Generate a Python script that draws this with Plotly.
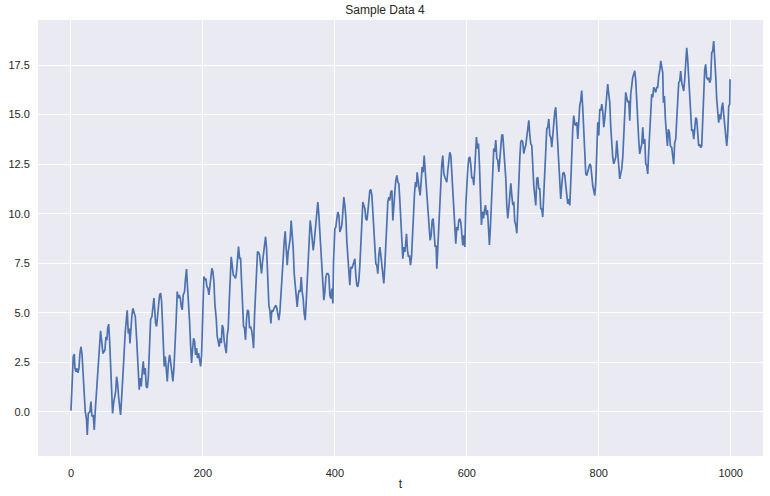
import plotly.graph_objects as go

t = [
0,3.5,5.0,6.1,7.6,9.1,10.6,12.1,13.6,15.1,16.7,18.7,20.2,21.7,23.7,24.7,26.3,28.8,30.3,31.8,33.8,35.3,36.9,39.4,41.4,42.9,44.9,46.9,48.5,50.0,51.5,53.0,54.5,55.6,57.1,58.6,60.1,61.6,63.1,64.6,66.2,67.7,69.2,70.7,72.2,73.7,75.2,76.8,78.3,80.3,82.3,83.8,85.3,86.9,88.4,89.4,90.9,92.4,93.9,95.5,
97.5,99.5,101.0,102.5,103.5,105.0,106.6,108.1,109.6,111.1,112.6,114.1,115.7,117.2,118.7,120.7,122.7,124.2,125.8,126.8,128.3,129.8,131.3,132.8,134.3,135.9,137.4,138.9,140.4,141.4,142.9,144.4,146.0,147.5,149.5,151.0,152.5,154.5,156.1,158.1,159.6,161.1,162.6,164.1,165.7,167.2,168.7,170.2,172.2,173.7,175.2,176.8,178.3,179.8,181.3,182.8,184.3,185.9,187.4,188.9,190.4,191.9,193.4,195.0,196.5,198.0,
200.0,201.5,203.0,204.5,206.1,207.6,209.1,210.6,212.1,213.6,215.1,216.7,218.2,220.2,221.7,223.2,224.7,226.3,227.8,229.3,230.8,232.3,233.8,235.4,236.9,238.4,239.9,241.4,242.9,244.4,246.0,248.0,249.5,251.0,252.5,254.0,255.6,257.1,258.6,260.1,261.6,263.1,264.6,266.2,267.7,269.2,270.7,272.2,273.7,275.2,276.8,278.3,279.8,281.3,282.8,284.3,285.9,287.4,288.9,290.4,291.9,293.4,295.0,296.5,
297.0,298.5,300.0,301.5,303.0,304.5,306.1,307.6,309.1,310.6,312.1,313.6,315.1,316.7,318.2,320.2,321.7,323.2,324.7,326.3,327.8,329.3,330.8,332.3,333.8,335.4,336.9,338.4,339.9,341.4,342.9,344.4,346.0,347.5,349.0,350.5,352.0,353.5,355.1,356.6,358.1,359.6,361.1,362.6,364.2,365.7,367.2,368.7,370.2,371.7,373.2,374.2,375.8,377.3,378.8,380.3,381.8,383.3,384.8,386.4,387.9,389.4,390.9,392.4,393.9,395.5,397.0,
398.0,400.0,401.5,403.0,404.5,406.1,407.6,409.1,410.6,412.1,413.6,415.1,416.7,418.2,419.7,421.2,422.7,424.2,425.8,427.3,428.8,430.3,431.8,433.3,434.8,436.4,437.9,439.4,440.9,442.4,443.9,445.5,447.0,448.5,450.0,451.5,453.0,454.5,456.1,457.6,459.1,460.6,462.1,463.6,465.1,466.7,468.2,469.7,471.2,472.7,474.2,475.8,477.3,478.8,480.3,481.8,483.3,484.8,486.4,487.9,489.4,490.9,492.4,494.0,495.5,
497.0,498.5,500.0,501.5,503.0,504.6,506.1,507.6,508.6,510.1,511.6,513.1,514.6,516.2,517.7,519.2,520.7,522.2,523.7,524.7,526.3,527.8,529.3,530.8,532.3,533.8,535.4,536.9,538.4,539.9,541.4,542.9,544.4,546.0,547.5,549.0,550.5,552.0,553.5,554.5,556.1,557.6,559.1,560.6,562.1,563.6,565.2,566.7,568.2,569.7,571.2,572.7,574.2,575.8,577.3,578.8,580.3,581.8,583.3,584.8,586.4,587.9,589.4,590.9,592.4,593.9,595.5,597.0,
598.5,600.0,601.5,603.0,604.5,606.1,607.6,609.1,610.6,612.1,613.6,614.6,616.2,617.7,619.2,620.7,622.2,623.7,625.3,626.8,628.3,629.8,631.3,632.8,634.3,635.9,637.9,639.4,640.9,642.4,643.9,645.5,647.0,648.5,650.0,651.5,653.0,654.5,656.1,657.6,659.1,660.6,662.1,663.6,665.2,666.7,668.2,669.7,671.2,672.7,674.2,675.8,677.3,678.8,680.3,681.8,683.3,684.8,686.4,687.9,689.4,690.9,692.4,694.0,695.5,
697.0,698.5,700.0,701.5,703.0,704.5,706.1,707.6,709.1,710.6,712.1,713.6,715.1,716.7,718.2,719.7,721.2,722.7,724.2,725.8,727.3,728.8,730.3,731.8,733.3,734.8,736.4,737.9,739.4,740.9,742.4,743.9,745.5,747.0,748.5,750.0,751.5,753.0,754.5,756.1,757.6,759.1,760.6,762.1,763.6,765.2,766.7,768.2,769.7,771.2,772.7,774.2,775.8,777.3,778.8,780.3,781.8,783.3,784.8,786.4,787.9,789.4,790.9,792.4,793.9,795.5,
797.0,798.5,800.0,801.5,803.0,804.6,806.1,807.6,809.1,810.6,812.1,813.6,815.1,816.7,818.2,819.7,821.2,822.7,824.2,825.8,827.3,828.8,830.3,831.8,833.3,834.8,836.4,837.9,839.4,840.9,842.4,843.9,845.5,847.0,848.5,850.0,851.5,853.0,854.5,856.1,857.6,859.1,860.6,862.1,863.6,865.2,866.7,868.2,869.7,871.2,872.7,874.2,875.8,877.3,878.8,880.3,881.8,883.3,884.8,886.4,887.9,889.4,890.9,892.4,894.0,
897.0,898.0,899.5,901.0,902.5,904.1,905.6,907.1,908.6,910.6,912.1,913.6,915.1,916.7,918.2,919.7,921.2,922.7,924.2,925.8,927.3,928.8,930.3,931.8,933.3,934.8,936.4,937.9,939.4,940.9,942.4,943.9,945.5,947.0,948.5,950.0,951.5,953.0,954.5,956.1,957.6,959.1,960.6,962.1,963.6,965.2,966.7,968.2,969.7,971.2,972.7,974.2,975.8,977.3,978.8,980.3,981.8,983.3,984.8,986.4,987.9,989.4,990.9,992.4,994.0,995.5,997.0,998.5,999.0,
]

values = [
0.07,2.79,2.92,2.20,2.03,2.20,1.98,2.20,2.95,3.29,2.95,1.95,0.77,0.02,-0.40,-1.16,-0.07,0.02,0.52,-0.23,-0.15,-0.91,0.10,1.44,2.53,3.46,4.09,3.46,2.95,3.04,3.12,3.79,3.62,4.21,4.43,3.62,2.45,1.28,-0.07,0.44,0.77,1.02,1.78,1.44,0.77,0.35,-0.15,0.69,1.44,2.79,4.04,4.88,5.13,3.96,4.21,3.46,4.55,4.88,5.22,4.97,
4.81,3.72,2.88,1.71,1.12,1.71,1.29,2.05,2.55,1.88,2.21,1.29,1.21,1.71,3.05,4.65,4.81,5.40,5.74,5.23,4.48,4.31,4.98,5.23,5.90,5.99,5.57,4.39,3.22,2.30,2.80,2.21,1.54,2.38,2.88,2.55,2.05,1.54,2.21,3.39,4.73,6.07,5.74,5.90,5.74,5.32,5.15,5.90,6.07,6.74,7.21,6.24,5.57,4.56,3.39,2.47,3.14,3.72,3.56,2.88,3.22,2.72,2.97,2.47,2.30,2.88,
5.32,6.83,6.66,6.74,6.32,6.24,5.90,6.32,6.91,7.25,7.08,6.58,5.40,4.73,3.81,3.56,3.30,3.72,3.47,4.39,4.23,3.56,3.22,2.97,3.89,4.23,5.57,6.91,7.83,7.41,6.91,6.83,6.74,7.08,7.67,8.34,7.75,7.75,6.58,5.57,4.31,4.23,3.64,4.73,5.15,5.07,4.23,4.31,4.14,3.81,3.22,4.90,6.07,7.08,8.09,8.05,7.92,7.41,6.99,7.58,8.00,8.51,8.84,8.25,
7.82,6.48,5.38,5.13,4.46,5.13,5.05,5.22,5.30,5.38,5.22,4.88,4.63,5.05,5.89,7.31,7.99,8.57,9.11,7.90,7.40,8.07,8.40,8.74,9.66,9.08,8.24,6.98,6.31,5.55,5.30,5.89,6.14,6.06,6.81,6.06,5.72,4.97,4.63,5.55,6.73,7.82,8.99,9.66,9.24,8.74,8.15,8.57,9.08,9.75,10.25,10.59,9.91,9.08,7.99,7.06,6.39,5.64,6.06,6.81,6.98,6.98,6.89,5.89,5.72,6.22,5.47,
7.57,9.24,9.33,9.75,10.08,9.92,9.08,9.24,9.41,10.08,10.84,10.42,9.83,8.57,7.73,7.06,6.39,7.31,7.23,7.40,7.65,7.73,6.89,6.39,6.31,6.64,7.40,8.40,9.41,10.59,10.42,10.25,9.75,9.66,10.08,10.75,11.17,11.22,10.92,10.08,9.08,8.07,7.48,7.40,6.98,7.90,8.32,7.90,7.40,6.98,6.48,7.40,8.57,9.75,10.59,10.84,10.67,11.09,11.17,9.66,10.59,11.09,11.68,11.93,11.59,
11.51,10.67,9.50,8.49,7.73,8.32,8.07,8.57,8.99,8.15,7.82,7.90,7.40,7.82,8.99,10.50,11.00,11.59,11.34,12.09,11.42,11.26,10.92,11.68,12.35,12.09,12.93,12.18,11.51,11.00,10.17,9.24,8.66,8.91,9.66,9.75,9.16,8.32,8.40,7.23,8.32,9.33,10.67,11.76,12.51,12.93,12.01,11.84,11.68,11.59,12.18,12.68,13.10,12.93,12.09,11.17,10.17,9.41,8.49,9.33,9.16,9.66,9.75,9.58,8.66,8.40,8.91,8.32,
10.43,11.69,12.28,12.78,12.87,12.45,11.78,11.86,11.44,12.28,13.29,13.87,13.29,13.54,12.45,11.27,9.43,10.10,9.76,10.18,10.43,9.93,10.18,9.34,8.42,9.43,10.94,12.28,13.29,13.12,13.71,12.78,12.70,12.11,12.78,13.45,13.96,13.96,13.29,12.78,11.78,10.43,9.76,10.27,10.94,11.53,10.94,10.43,10.60,9.60,9.43,9.01,10.27,11.78,12.78,13.62,13.71,13.62,13.03,13.29,13.45,13.87,14.21,14.71,13.96,
13.52,13.44,12.26,11.42,10.92,10.42,11.76,11.84,11.26,11.26,10.25,10.25,9.83,11.26,12.01,13.52,14.28,14.36,14.78,13.94,13.86,13.35,14.11,14.86,15.12,15.37,14.36,13.60,12.43,11.59,10.75,11.42,12.01,12.09,11.93,11.42,11.00,10.50,10.75,10.42,11.59,13.10,14.28,14.95,14.53,14.44,14.61,13.77,14.70,15.45,15.70,16.21,15.28,14.28,13.10,12.01,11.93,12.18,12.43,12.51,12.43,11.76,11.42,11.17,10.92,11.59,
13.35,14.61,13.94,15.28,15.20,15.53,15.12,14.36,14.78,15.53,16.12,16.54,16.04,15.62,14.36,13.35,12.85,12.51,12.68,12.85,13.69,12.85,12.35,11.76,12.01,12.26,12.85,14.02,14.86,16.12,15.87,15.62,15.70,14.69,16.04,16.54,16.88,17.04,17.21,16.71,15.53,14.36,13.69,13.02,13.35,13.52,14.36,13.52,13.77,12.51,12.43,12.01,13.19,14.19,15.37,16.04,15.87,16.37,16.29,16.12,16.37,16.37,16.96,17.21,17.71,
17.11,15.60,15.94,14.76,13.76,13.42,14.26,14.09,13.42,13.33,12.92,12.50,13.59,13.76,14.76,15.94,16.61,16.69,17.19,16.61,16.44,16.19,16.78,17.78,18.37,17.78,16.94,15.94,15.10,14.17,14.26,13.76,14.26,14.85,14.76,14.09,13.42,13.50,13.33,13.42,14.76,16.10,17.28,17.53,16.86,16.78,16.86,16.61,16.78,18.12,18.20,18.71,17.95,16.94,15.77,14.85,14.59,15.01,14.76,15.35,15.60,15.01,14.34,14.01,13.42,14.09,15.43,15.52,16.78,
]

x_tick_vals = [0, 200, 400, 600, 800, 1000]
x_tick_text = ["0", "200", "400", "600", "800", "1000"]
y_tick_vals = [0.0, 2.5, 5.0, 7.5, 10.0, 12.5, 15.0, 17.5]
y_tick_text = ["0.0", "2.5", "5.0", "7.5", "10.0", "12.5", "15.0", "17.5"]

fig = go.Figure()
fig.add_trace(go.Scatter(x=t, y=values, mode="lines",
                         line=dict(color="#4C72B0", width=1.7),
                         hoverinfo="skip", showlegend=False))

font_family = "Liberation Sans, Arial, sans-serif"
text_color = "#262626"
fig.update_layout(
    width=770, height=496,
    margin=dict(l=38, r=7, t=20, b=40, autoexpand=False),
    paper_bgcolor="white",
    plot_bgcolor="#EAEAF2",
    font=dict(family=font_family, size=11, color=text_color),
    title=dict(text="Sample Data 4", x=0.5, xanchor="center",
               y=1 - 9.5/496, yanchor="middle", yref="container",
               font=dict(family=font_family, size=12, color=text_color), automargin=False),
    xaxis=dict(range=[-49.95, 1048.95], tickvals=x_tick_vals, ticktext=x_tick_text,
               showgrid=True, gridcolor="white", gridwidth=1, zeroline=False,
               showline=False, ticks="outside", ticklen=7, tickcolor="rgba(0,0,0,0)",
               tickfont=dict(family=font_family, size=11, color=text_color),
               automargin=False,
               title=dict(text="t", font=dict(family=font_family, size=12, color=text_color),
                          standoff=1)),
    yaxis=dict(range=[-2.22, 19.77], tickvals=y_tick_vals, ticktext=y_tick_text,
               showgrid=True, gridcolor="white", gridwidth=1, zeroline=False,
               showline=False, ticks="outside", ticklen=5, tickcolor="rgba(0,0,0,0)",
               tickfont=dict(family=font_family, size=11, color=text_color),
               automargin=False),
)

fig.write_html("out.html", config={"displayModeBar": False},
               post_script="document.body.style.margin='0';")
